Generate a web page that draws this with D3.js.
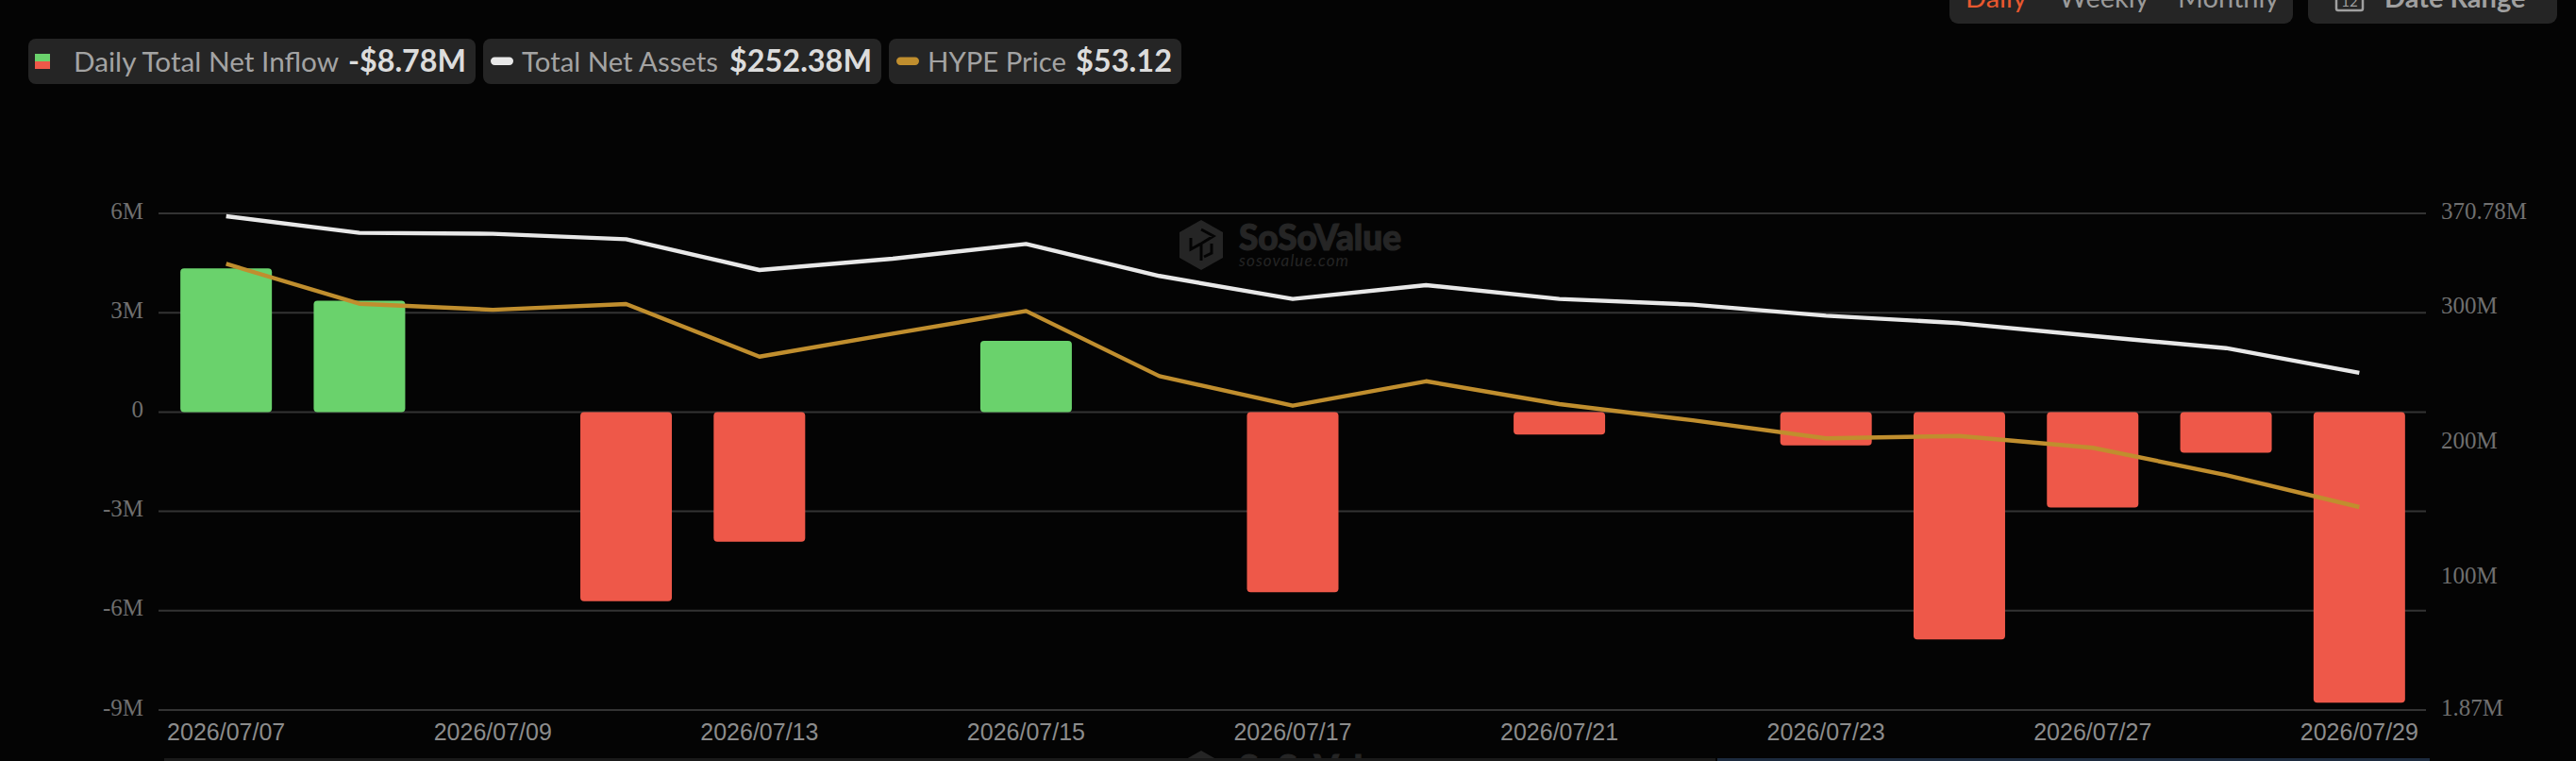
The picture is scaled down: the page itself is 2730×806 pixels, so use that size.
<!DOCTYPE html>
<html><head><meta charset="utf-8">
<script src="https://cdnjs.cloudflare.com/ajax/libs/d3/7.9.0/d3.min.js"></script>
<style>html,body{margin:0;padding:0;background:#040404;overflow:hidden}svg{display:block}</style>
</head><body><svg id="c" width="2730" height="806"></svg>
<script>
const dates=["2026/07/07","2026/07/08","2026/07/09","2026/07/10","2026/07/13","2026/07/14","2026/07/15","2026/07/16","2026/07/17","2026/07/20","2026/07/21","2026/07/22","2026/07/23","2026/07/24","2026/07/27","2026/07/28","2026/07/29"];
const netInflow=[4.34,3.36,null,-5.71,-3.92,null,2.15,null,-5.44,null,-0.68,null,-1.01,-6.87,-2.88,-1.23,-8.78];
const netAssets=[368.7,356.3,355.6,351.6,328.7,337.1,348.1,324.3,307.2,317.5,307.2,303.0,294.8,289.2,279.8,270.7,252.38];
const hypePrice=[68.84,66.26,65.87,66.24,62.84,64.33,65.79,61.58,59.67,61.25,59.77,58.73,57.56,57.71,56.95,55.19,53.12];
const xTickLabels=["2026/07/07","2026/07/09","2026/07/13","2026/07/15","2026/07/17","2026/07/21","2026/07/23","2026/07/27","2026/07/29"];
const leftTicks=[6,3,0,-3,-6,-9];
const rightTicks=[370.78,300,200,100,1.87];
const legendNames=["Daily Total Net Inflow","Total Net Assets","HYPE Price"];
const legendValues=["-$8.78M","$252.38M","$53.12"];
const periods=["Daily","Weekly","Monthly"];

const C={bg:"#040404",chip:"#252525",grid:"#333333",green:"#6AD26C",red:"#EE5849",white:"#E8E8E8",gold:"#C08E2E",axisY:"#6f6f6f",axisX:"#8c8c8c",mark:"#252525"};
const svg=d3.select("#c");
const plotTop=226,plotBot=752,L=169,R=2571;
const x=d3.scaleBand().domain(dates).range([L,R]);
const yL=d3.scaleLinear().domain([-9,6]).range([plotBot,plotTop]);
const yR=d3.scaleLinear().domain([1.87,370.78]).range([plotBot,plotTop]);
const yP=d3.scaleLinear().domain([40,72.1]).range([plotBot,plotTop]);
const cx=d=>x(d)+x.bandwidth()/2;

// top-right controls (clipped by the window top)
const chips=[[2066,2430],[2446,2710]];
svg.selectAll("rect.tc").data(chips).join("rect").attr("class","tc")
  .attr("x",d=>d[0]).attr("y",-20).attr("width",d=>d[1]-d[0]).attr("height",45).attr("rx",9).attr("fill",C.chip);
const pX=[2083,2182,2308];
svg.selectAll("text.per").data(periods).join("text").attr("class","per")
  .attr("x",(d,i)=>pX[i]).attr("y",8).attr("font-family","Lato").attr("font-size",29)
  .attr("fill",(d,i)=>i===0?"#E8582F":"#9a9a9a").text(d=>d);
const cal=svg.append("g").attr("fill","none").attr("stroke","#a0a0a0").attr("stroke-width",2.5);
cal.append("rect").attr("x",2476).attr("y",-10).attr("width",28).attr("height",21).attr("rx",2);
svg.append("text").attr("x",2490).attr("y",7).attr("text-anchor","middle").attr("font-family","Lato").attr("font-size",15).attr("fill","#a0a0a0").text("12");
svg.append("text").attr("x",2527).attr("y",8).attr("font-family","Lato").attr("font-weight",700).attr("font-size",29).attr("fill","#a0a0a0").text("Date Range");

// legend
const leg=[{x0:30,x1:504,tx:78,tw:281,vx:369,vw:125},{x0:512,x1:934,tx:553,tw:208,vx:773,vw:151},{x0:942,x1:1252,tx:983,tw:147,vx:1140,vw:102}];
svg.selectAll("rect.lg").data(leg).join("rect").attr("class","lg")
  .attr("x",d=>d.x0).attr("y",41).attr("width",d=>d.x1-d.x0).attr("height",48).attr("rx",8).attr("fill",C.chip);
svg.selectAll("text.ln").data(leg).join("text").attr("class","ln")
  .attr("x",d=>d.tx).attr("y",76).attr("font-family","Lato").attr("font-size",29.5).attr("fill","#a3a3a3")
  .attr("textLength",d=>d.tw).attr("lengthAdjust","spacingAndGlyphs")
  .text((d,i)=>legendNames[i]);
svg.selectAll("text.lv").data(leg).join("text").attr("class","lv")
  .attr("x",d=>d.vx).attr("y",76).attr("font-family","Lato").attr("font-weight",700).attr("font-size",33).attr("fill","#dcdcdc")
  .attr("textLength",d=>d.vw).attr("lengthAdjust","spacingAndGlyphs")
  .text((d,i)=>legendValues[i]);
svg.append("rect").attr("x",37).attr("y",57).attr("width",16).attr("height",8).attr("fill",C.green);
svg.append("rect").attr("x",37).attr("y",65).attr("width",16).attr("height",8).attr("fill",C.red);
svg.append("rect").attr("x",520).attr("y",60.5).attr("width",24).attr("height",8.5).attr("rx",4.2).attr("fill",C.white);
svg.append("rect").attr("x",950).attr("y",60.5).attr("width",24).attr("height",8.5).attr("rx",4.2).attr("fill",C.gold);

// watermarks
function mark(dy){
  const g=svg.append("g").attr("transform",`translate(0,${dy})`);
  g.append("path").attr("d","M1273 233L1296 246V273L1273 286L1250 273V246Z").attr("fill",C.mark);
  g.append("path").attr("d","M1273 243L1286 250L1273 258L1262 264V252M1273 258V276M1284 258V268L1276 272")
    .attr("fill","none").attr("stroke",C.bg).attr("stroke-width",3);
  g.append("text").attr("x",1313).attr("y",265).attr("font-family","Lato").attr("font-weight",900).attr("font-size",38)
    .attr("textLength",172).attr("lengthAdjust","spacingAndGlyphs").attr("fill",C.mark).attr("stroke",C.mark).attr("stroke-width",1.2).text("SoSoValue");
  g.append("text").attr("x",1313).attr("y",282).attr("font-family","Lato").attr("font-style","italic").attr("font-size",17)
    .attr("textLength",116).attr("fill",C.mark).text("sosovalue.com");
}
mark(0);mark(562);

// slider strip
svg.append("rect").attr("x",174).attr("y",803).attr("width",1644).attr("height",3).attr("fill","#1a1a1a");
svg.append("rect").attr("x",1820).attr("y",803).attr("width",755).attr("height",3).attr("fill","#1c2a3e");

// gridlines
svg.selectAll("line.g").data(leftTicks).join("line").attr("class","g")
  .attr("x1",L-1).attr("x2",R).attr("y1",d=>yL(d)).attr("y2",d=>yL(d)).attr("stroke",C.grid).attr("stroke-width",2);

// axes
const axL=svg.append("g").attr("transform","translate(168,0)")
  .call(d3.axisLeft(yL).tickValues(leftTicks).tickSize(0).tickPadding(16).tickFormat(d=>d===0?"0":d+"M"));
const axR=svg.append("g").attr("transform",`translate(${R},0)`)
  .call(d3.axisRight(yR).tickValues(rightTicks).tickSize(0).tickPadding(16).tickFormat(d=>d+"M"));
[axL,axR].forEach(a=>{a.select(".domain").remove();
  a.selectAll("text").attr("font-family","'Liberation Serif'").attr("font-size",25).attr("fill",C.axisY).attr("dy","0.2em");});
const axB=svg.append("g").attr("transform","translate(0,752)")
  .call(d3.axisBottom(x).tickValues(xTickLabels).tickSize(0).tickPadding(14));
axB.select(".domain").remove();
axB.selectAll("text").attr("font-family","'Liberation Sans'").attr("font-size",25).attr("fill",C.axisX);

// bars
const bw=97;
svg.selectAll("rect.bar").data(dates.map((d,i)=>({d,v:netInflow[i]})).filter(o=>o.v!==null)).join("rect").attr("class","bar")
  .attr("x",o=>cx(o.d)-bw/2).attr("width",bw)
  .attr("y",o=>Math.min(yL(o.v),yL(0))).attr("height",o=>Math.abs(yL(o.v)-yL(0)))
  .attr("rx",4).attr("fill",o=>o.v>=0?C.green:C.red);

// lines
const lineOf=(scale)=>d3.line().x((v,i)=>cx(dates[i])).y(v=>scale(v));
svg.append("path").attr("d",lineOf(yR)(netAssets)).attr("fill","none").attr("stroke",C.white).attr("stroke-width",4.4).attr("stroke-linejoin","round");
svg.append("path").attr("d",lineOf(yP)(hypePrice)).attr("fill","none").attr("stroke",C.gold).attr("stroke-width",4.4).attr("stroke-linejoin","round");
</script></body></html>
